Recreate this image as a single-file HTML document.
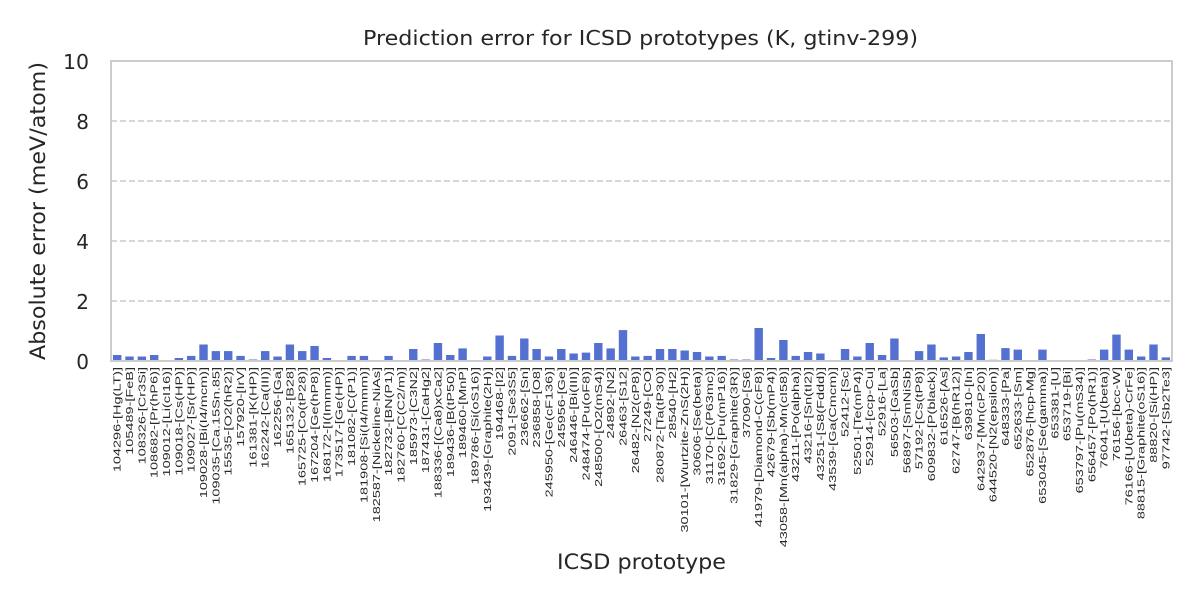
<!DOCTYPE html>
<html><head><meta charset="utf-8"><style>
html,body{margin:0;padding:0;background:#fff;}
svg{display:block;font-family:"DejaVu Sans","Liberation Sans",sans-serif;}
</style></head><body>
<svg id="s" width="1200" height="600" xmlns="http://www.w3.org/2000/svg">
<rect width="1200" height="600" fill="#fff"/>
<text x="363" y="45" font-size="20" textLength="555" lengthAdjust="spacingAndGlyphs" fill="#262626">Prediction error for ICSD prototypes (K, gtinv-299)</text>
<g stroke="#cccccc" stroke-width="1.5" stroke-dasharray="6,3">
<line x1="111" x2="1172" y1="121" y2="121"/>
<line x1="111" x2="1172" y1="181" y2="181"/>
<line x1="111" x2="1172" y1="241" y2="241"/>
<line x1="111" x2="1172" y1="301" y2="301"/>
</g>
<g font-size="20" fill="#262626" text-anchor="end">
<text x="89" y="69" textLength="26" lengthAdjust="spacingAndGlyphs">10</text>
<text x="89" y="129">8</text>
<text x="89" y="189">6</text>
<text x="89" y="249">4</text>
<text x="89" y="309">2</text>
<text x="89" y="369">0</text>
</g>
<text transform="translate(45,360) rotate(-90)" font-size="21" textLength="298" lengthAdjust="spacingAndGlyphs" fill="#262626">Absolute error (meV/atom)</text>
<text x="557" y="569" font-size="21" textLength="169" lengthAdjust="spacingAndGlyphs" fill="#262626">ICSD prototype</text>
<g id="bars" fill="#5470d0"></g>
<g id="labels" font-size="10" fill="#262626" text-anchor="end" style="font-family:'Liberation Sans',sans-serif"></g>
<rect x="111" y="61" width="1061" height="300" fill="none" stroke="#cccccc" stroke-width="2"/>
</svg>
<script>
var L=["104296-[Hg(LT)]","105489-[FeB]","108326-[Cr3Si]","108682-[Pr(hP6)]","109012-[Li(cI16)]","109018-[Cs(HP)]","109027-[Sr(HP)]","109028-[Bi(I4/mcm)]","109035-[Ca.15Sn.85]","15535-[O2(hR2)]","157920-[IrV]","161381-[K(HP)]","162242-[Ca(III)]","162256-[Ga]","165132-[B28]","165725-[Co(tP28)]","167204-[Ge(hP8)]","168172-[I(Immm)]","173517-[Ge(HP)]","181082-[C(P1)]","181908-[Si(I4/mmm)]","182587-[Nickeline-NiAs]","182732-[BN(P1)]","182760-[C(C2/m)]","185973-[C3N2]","187431-[CaHg2]","188336-[(Ca8)xCa2]","189436-[B(tP50)]","189460-[MnP]","189786-[Si(oS16)]","193439-[Graphite(2H)]","194468-[I2]","2091-[Se3S5]","236662-[Sn]","236858-[O8]","245950-[Ge(cF136)]","245956-[Ge]","246446-[Bi(III)]","248474-[Pu(oF8)]","248500-[O2(mS4)]","24892-[N2]","26463-[S12]","26482-[N2(cP8)]","27249-[CO]","280872-[Ta(tP30)]","28540-[H2]","30101-[Wurtzite-ZnS(2H)]","30606-[Se(beta)]","31170-[C(P63mc)]","31692-[Pu(mP16)]","31829-[Graphite(3R)]","37090-[S6]","41979-[Diamond-C(cF8)]","42679-[Sb(mP4)]","43058-[Mn(alpha)-Mn(cI58)]","43211-[Po(alpha)]","43216-[Sn(tI2)]","43251-[S8(Fddd)]","43539-[Ga(Cmcm)]","52412-[Sc]","52501-[Te(mP4)]","52914-[ccp-Cu]","52916-[La]","56503-[GaSb]","56897-[SmNiSb]","57192-[Cs(tP8)]","609832-[P(black)]","616526-[As]","62747-[B(hR12)]","639810-[In]","642937-[Mn(cP20)]","644520-[N2(epsilon)]","648333-[Pa]","652633-[Sm]","652876-[hcp-Mg]","653045-[Se(gamma)]","653381-[U]","653719-[Bi]","653797-[Pu(mS34)]","656457-[Po(hR1)]","76041-[U(beta)]","76156-[bcc-W]","76166-[U(beta)-CrFe]","88815-[Graphite(oS16)]","88820-[Si(HP)]","97742-[Sb2Te3]"];
var V=[0.2,0.15,0.15,0.2,0.02,0.1,0.17,0.55,0.33,0.33,0.17,0.05,0.33,0.15,0.55,0.33,0.5,0.1,0.02,0.17,0.17,0.02,0.17,0.02,0.4,0.05,0.6,0.2,0.42,0.02,0.15,0.85,0.17,0.75,0.4,0.15,0.4,0.25,0.28,0.6,0.42,1.03,0.15,0.17,0.4,0.4,0.35,0.3,0.15,0.17,0.05,0.05,1.1,0.1,0.7,0.17,0.3,0.25,0.02,0.4,0.15,0.6,0.2,0.75,0.02,0.33,0.55,0.12,0.15,0.3,0.9,0.04,0.43,0.38,0.02,0.38,0.01,0.01,0.01,0.05,0.38,0.88,0.38,0.15,0.55,0.12];
var ns="http://www.w3.org/2000/svg",b=document.getElementById("bars"),lg=document.getElementById("labels");
var w=1061/86;
for(var i=0;i<86;i++){var c=111+w*(i+0.5);
var r=document.createElementNS(ns,"rect");var h=V[i]*30;
r.setAttribute("x",c-4.2);r.setAttribute("width",8.4);r.setAttribute("y",361-h);r.setAttribute("height",h);b.appendChild(r);
var t=document.createElementNS(ns,"text");t.setAttribute("transform","translate("+(c+3.5)+",367) rotate(-90) scale(1.45,1)");t.textContent=L[i];lg.appendChild(t);}
</script>
</body></html>
